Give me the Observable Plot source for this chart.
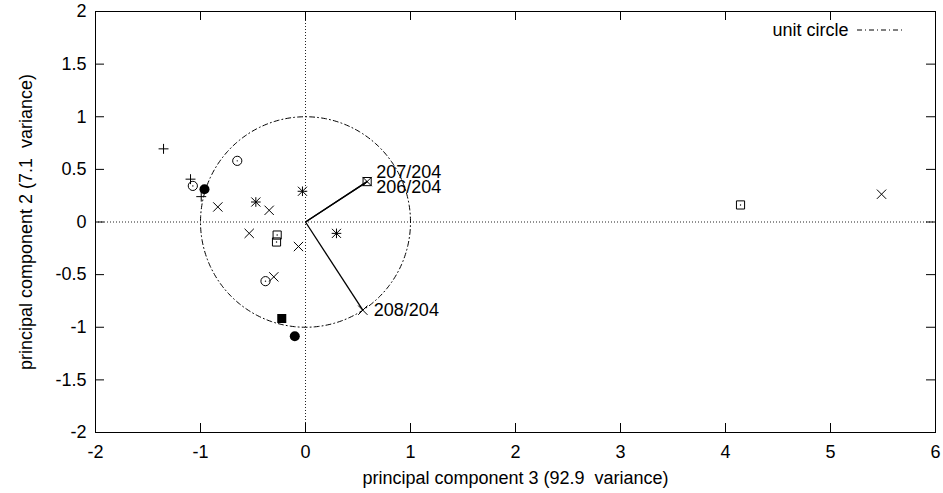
<!DOCTYPE html>
<html><head><meta charset="utf-8">
<script src="https://cdn.jsdelivr.net/npm/d3@7"></script>
<script src="https://cdn.jsdelivr.net/npm/@observablehq/plot@0.6"></script>
<style>
body{margin:0;background:#fff}
svg{font-family:"Liberation Sans",Arial,Helvetica,sans-serif}
svg text{white-space:pre}
</style>
</head><body><div id="chart"></div>
<script>
// ---- data ----
const xTicks = [-2, -1, 0, 1, 2, 3, 4, 5, 6];
const yTicks = [-2, -1.5, -1, -0.5, 0, 0.5, 1, 1.5, 2];
const xLabel = "principal component 3 (92.9  variance)";
const yLabel = "principal component 2 (7.1  variance)";
const legendLabel = "unit circle";

// gnuplot point type 1: plus
const plusX = [-1.352, -1.095, -0.993];
const plusY = [0.695, 0.407, 0.241];
// point type 2: cross
const timesX = [-0.835, -0.346, -0.536, -0.067, -0.302, 0.546, 5.486, 0.587];
const timesY = [0.143, 0.111, -0.108, -0.233, -0.521, -0.838, 0.264, 0.384];
// point type 3: star (plus + cross)
const starX = [-0.473, -0.029, 0.295];
const starY = [0.190, 0.292, -0.108];
// point type 4: open box
const boxX = [-0.270, -0.276, 4.143, 0.587];
const boxY = [-0.124, -0.190, 0.162, 0.384];
// point type 5: filled box
const fboxX = [-0.226];
const fboxY = [-0.917];
// point type 6: open circle
const circX = [-0.650, -1.073, -0.381];
const circY = [0.581, 0.343, -0.562];
// point type 7: filled circle
const fcircX = [-0.962, -0.102];
const fcircY = [0.311, -1.086];

// ratio vectors
const vecNames = ["207/204", "206/204", "208/204"];
const vecX = [0.587, 0.587, 0.546];
const vecY = [0.384, 0.384, -0.838];
const vecLabelDy = [-9, 6, 0];
const vecLabelDx = [9, 9, 11];

const unitRadius = 1;

// ---- build tables ----
const pts = (xs, ys) => xs.map((x, i) => ({x, y: ys[i]}));
const plusPts = pts(plusX, plusY);
const timesPts = pts(timesX, timesY);
const starPts = pts(starX, starY);
const boxPts = pts(boxX, boxY);
const fboxPts = pts(fboxX, fboxY);
const circPts = pts(circX, circY);
const fcircPts = pts(fcircX, fcircY);
const vectors = vecNames.map((name, i) => ({name, x: vecX[i], y: vecY[i], dx: vecLabelDx[i], dy: vecLabelDy[i]}));
const circle = d3.range(0, 361, 1).map(a => ({
  x: unitRadius * Math.cos(a * Math.PI / 180),
  y: unitRadius * Math.sin(a * Math.PI / 180)
}));

const W = 943, H = 493;
const mL = 95, mR = 8, mT = 11, mB = 61;
const innerW = W - mL - mR, innerH = H - mT - mB;
const tick = 9;
const fs = 18;

const plot = Plot.plot({
  width: W, height: H,
  marginLeft: mL, marginRight: mR, marginTop: mT, marginBottom: mB,
  style: {fontSize: fs + "px", fontFamily: '"Liberation Sans", Arial, sans-serif', background: "#fff", color: "#000"},
  x: {domain: [-2, 6], ticks: xTicks},
  y: {domain: [-2, 2], ticks: yTicks},
  marks: [
    // zero axes (dotted)
    Plot.ruleX([0], {stroke: "#222", strokeDasharray: "1,2", strokeWidth: 1}),
    Plot.ruleY([0], {stroke: "#222", strokeDasharray: "1,2", strokeWidth: 1}),
    // tick labels
    Plot.axisX({ticks: xTicks, tickSize: 0, tickPadding: 13, fontSize: fs, label: null, tickFormat: d => String(d)}),
    Plot.axisY({ticks: yTicks, tickSize: 0, tickPadding: 9, fontSize: fs, label: null, tickFormat: d => String(d)}),
    // inward ticks on all four sides
    Plot.tickX(xTicks, {x: d => d, insetTop: innerH - tick, stroke: "#000"}),
    Plot.tickX(xTicks, {x: d => d, insetBottom: innerH - tick, stroke: "#000"}),
    Plot.tickY(yTicks, {y: d => d, insetRight: innerW - tick, stroke: "#000"}),
    Plot.tickY(yTicks, {y: d => d, insetLeft: innerW - tick, stroke: "#000"}),
    Plot.frame({stroke: "#000", strokeWidth: 1}),
    // axis titles
    Plot.text([xLabel], {text: d => d, frameAnchor: "bottom", dy: 46, textAnchor: "middle", lineAnchor: "middle", fontSize: fs, fill: "#000"}),
    Plot.text([yLabel], {text: d => d, frameAnchor: "left", dx: -69, rotate: -90, textAnchor: "middle", lineAnchor: "middle", fontSize: fs, fill: "#000"}),
    // unit circle
    Plot.line(circle, {x: "x", y: "y", stroke: "#000", strokeWidth: 1, strokeDasharray: "5,3,1,3"}),
    // vectors
    Plot.link(vectors, {x1: () => 0, y1: () => 0, x2: "x", y2: "y", stroke: "#000", strokeWidth: 1.3}),
    ...vectors.map(v => Plot.text([v], {x: "x", y: "y", text: "name", textAnchor: "start", dx: v.dx, dy: v.dy, fontSize: fs, fill: "#000", lineAnchor: "middle"})),
    // points
    Plot.dot(plusPts, {x: "x", y: "y", symbol: "plus", r: 3.3, stroke: "#000", strokeWidth: 1}),
    Plot.dot(timesPts, {x: "x", y: "y", symbol: "times", r: 4.3, stroke: "#000", strokeWidth: 1}),
    Plot.dot(starPts, {x: "x", y: "y", symbol: "plus", r: 3.2, stroke: "#000", strokeWidth: 1}),
    Plot.dot(starPts, {x: "x", y: "y", symbol: "times", r: 4.2, stroke: "#000", strokeWidth: 1}),
    Plot.dot(boxPts, {x: "x", y: "y", symbol: "square", r: 4.6, stroke: "#000", strokeWidth: 1, fill: "none"}),
    Plot.dot(boxPts, {x: "x", y: "y", r: 0.7, fill: "#000"}),
    Plot.dot(fboxPts, {x: "x", y: "y", symbol: "square", r: 5.1, fill: "#000", stroke: "none"}),
    Plot.dot(circPts, {x: "x", y: "y", symbol: "circle", r: 4.6, stroke: "#000", strokeWidth: 1, fill: "none"}),
    Plot.dot(circPts, {x: "x", y: "y", r: 0.7, fill: "#000"}),
    Plot.dot(fcircPts, {x: "x", y: "y", symbol: "circle", r: 5, fill: "#000", stroke: "none"}),
    // legend text
    Plot.text([legendLabel], {text: d => d, frameAnchor: "top-right", dx: -87, dy: 19, textAnchor: "end", lineAnchor: "middle", fontSize: fs, fill: "#000"})
  ]
});

// legend line sample (dash-dot)
d3.select(plot).append("line")
  .attr("x1", W - mR - 78).attr("x2", W - mR - 30)
  .attr("y1", mT + 19).attr("y2", mT + 19)
  .attr("stroke", "#000").attr("stroke-width", 1)
  .attr("stroke-dasharray", "5,3,1,3");

document.getElementById("chart").appendChild(plot);
</script>
</body></html>
